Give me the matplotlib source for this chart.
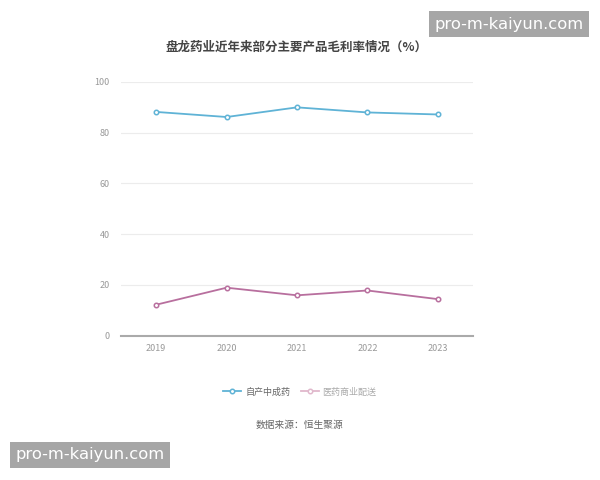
import matplotlib
matplotlib.use("Agg")
import matplotlib.pyplot as plt

plt.rcParams['font.family'] = ['Noto Sans CJK SC', 'DejaVu Sans']

years = ["2019", "2020", "2021", "2022", "2023"]
series_names = ["自产中成药", "医药商业配送"]
self_made = [88.1, 86.1, 89.9, 87.9, 87.1]
distribution = [12.2, 18.9, 15.9, 17.8, 14.4]
colors = ["#5fb3d6", "#b86f9e"]
yticks = [0, 20, 40, 60, 80, 100]

fig = plt.figure(figsize=(6, 4.8), dpi=100)
ax = fig.add_axes([121/600, 144.3/480, 352/600, 254/480])

x = list(range(len(years)))
for vals, c, name in zip([self_made, distribution], colors, series_names):
    ax.plot(x, vals, color=c, lw=1.3, marker='o', ms=3.2, mfc='white',
            mec=c, mew=1.1, label=name, zorder=3)

ax.set_xlim(-0.5, len(years) - 0.5)
ax.set_ylim(0, 100)
ax.set_yticks(yticks)
ax.set_yticklabels([str(v) for v in yticks])
ax.set_xticks(x)
ax.set_xticklabels(years)
ax.grid(axis='y', color='#ececec', lw=0.8)
ax.set_axisbelow(True)
for s in ['top', 'right', 'left']:
    ax.spines[s].set_visible(False)
ax.spines['bottom'].set_color('#aaaaaa')
ax.spines['bottom'].set_linewidth(1.5)
ax.tick_params(axis='both', length=0, labelsize=6.5, labelcolor='#999999', pad=6)
ax.tick_params(axis='y', pad=8)

fig.text(297/600, 1 - 47/480, "盘龙药业近年来部分主要产品毛利率情况（%）", ha='center', va='center',
         fontsize=9, fontweight='bold', color='#444444')

leg = fig.legend(loc='center', bbox_to_anchor=(300/600, 1 - 392/480), ncol=2, frameon=False,
                 fontsize=6.5, handlelength=2, columnspacing=1.2, handletextpad=0.4)
for t in leg.get_texts():
    t.set_color('#666666')
leg.get_texts()[1].set_color('#aaaaaa')
h2 = leg.legend_handles[1]
h2.set_color('#e0b8cc')
h2.set_markeredgecolor('#e0b8cc')

fig.text(300/600, 1 - 425/480, "数据来源：恒生聚源", ha='center', va='center',
         fontsize=7, color='#666666')

wm = dict(facecolor='#a6a6a6', edgecolor='none', boxstyle='square,pad=0.35')
fig.text(509/600, 1 - 24/480, "pro-m-kaiyun.com", ha='center', va='center',
         fontsize=11.8, color='white', bbox=wm, family=['DejaVu Sans'])
fig.text(90/600, 1 - 455/480, "pro-m-kaiyun.com", ha='center', va='center',
         fontsize=11.8, color='white', bbox=wm, family=['DejaVu Sans'])

fig.savefig("out.png", dpi=100, facecolor='white')
